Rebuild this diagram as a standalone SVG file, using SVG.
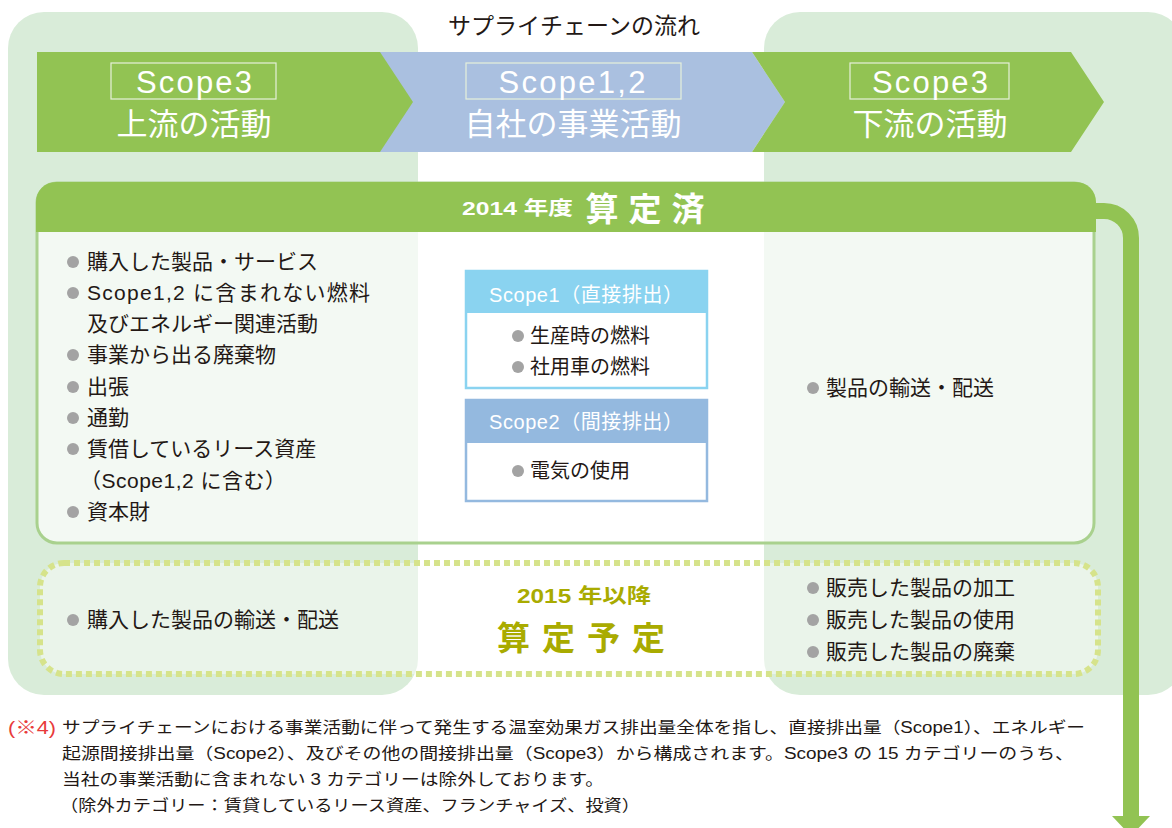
<svg xmlns="http://www.w3.org/2000/svg" width="1172" height="828" viewBox="0 0 1172 828">
<style>
text{font-family:"Liberation Sans","Noto Sans CJK JP",sans-serif}
.ban{fill:#fff;font-size:31px;text-anchor:middle}
.scp{fill:#fff;font-size:31px;text-anchor:middle}
.sbox{fill:none;stroke:#e6f0da;stroke-width:1.2}
.li{fill:#231815;font-size:21px}
.li2{fill:#231815;font-size:20px}
.bul{fill:#a3a3a3}
.hd{fill:#fff;font-size:20px;text-anchor:middle}
.ft{fill:#231815;font-size:16px}
.ol{fill:#a9ab00;font-weight:bold;text-anchor:middle}
</style>
<rect x="0" y="0" width="1172" height="828" fill="#fff"/>
<g id="panels">
<rect id="panel-left" x="8" y="12" width="410" height="683" rx="36" fill="#d9ecd9"/>
<rect id="panel-right" x="764" y="12" width="420" height="683" rx="36" fill="#d9ecd9"/>
</g>
<text x="574" y="34" font-size="23" fill="#231815" text-anchor="middle">サプライチェーンの流れ</text>
<g id="banner-mid">
<polygon points="380,52 752,52 785,102 752,152 380,152" fill="#aac0e0"/>
<rect class="sbox" x="466" y="63" width="215" height="36"/>
<text class="scp" x="572" y="93" textLength="147">Scope1,2</text>
<text class="ban" x="573" y="135">自社の事業活動</text>
</g>
<g id="banner-left">
<polygon points="37,52 380,52 413,102 380,152 37,152" fill="#92c353"/>
<rect class="sbox" x="111" y="63" width="165" height="36"/>
<text class="scp" x="194" y="93" textLength="116">Scope3</text>
<text class="ban" x="194" y="135">上流の活動</text>
</g>
<g id="banner-right">
<polygon points="752,52 1071,52 1104,102 1071,152 752,152 785,102" fill="#92c353"/>
<rect class="sbox" x="850" y="63" width="159" height="36"/>
<text class="scp" x="930" y="93" textLength="116">Scope3</text>
<text class="ban" x="930" y="135">下流の活動</text>
</g>
<g id="connectors">
<path d="M1090,211 H1104 A27,27 0 0 1 1131,238 V818" fill="none" stroke="#92c353" stroke-width="16"/>
<polygon points="1112,816 1150,816 1131,836" fill="#92c353"/>
</g>
<g id="calc-2014">
<rect x="37" y="183" width="1057" height="360" rx="20" fill="#fff" fill-opacity="0.68" stroke="#a9d18e" stroke-width="3"/>
<path d="M36,232 V202 A20,20 0 0 1 56,182 H1076 A20,20 0 0 1 1096,202 V232 Z" fill="#92c353"/>
<text x="462" y="215" fill="#fff" font-size="19" font-weight="bold" textLength="111" lengthAdjust="spacingAndGlyphs">2014 年度</text>
<text x="650" y="221" fill="#fff" font-size="33" font-weight="bold" text-anchor="middle" letter-spacing="10">算定済</text>
</g>
<g id="upstream-list">
<circle class="bul" cx="73" cy="262" r="6"/><text class="li" x="87" y="269">購入した製品・サービス</text>
<circle class="bul" cx="73" cy="293" r="6"/><text class="li" x="87" y="300" textLength="283">Scope1,2 に含まれない燃料</text>
<text class="li" x="87" y="331">及びエネルギー関連活動</text>
<circle class="bul" cx="73" cy="355" r="6"/><text class="li" x="87" y="362">事業から出る廃棄物</text>
<circle class="bul" cx="73" cy="387" r="6"/><text class="li" x="87" y="394">出張</text>
<circle class="bul" cx="73" cy="418" r="6"/><text class="li" x="87" y="425">通勤</text>
<circle class="bul" cx="73" cy="449" r="6"/><text class="li" x="87" y="456">賃借しているリース資産</text>
<text class="li" x="80" y="488" textLength="206">（Scope1,2 に含む）</text>
<circle class="bul" cx="73" cy="512" r="6"/><text class="li" x="87" y="519">資本財</text>
</g>
<g id="scope1">
<rect x="466" y="271" width="241" height="117" fill="#fff" stroke="#8ad3f0" stroke-width="2.5"/>
<rect x="466" y="271" width="241" height="42" fill="#8ad3f0"/>
<text class="hd" x="586" y="302" textLength="194">Scope1（直接排出）</text>
<circle class="bul" cx="518" cy="336" r="6"/><text class="li2" x="530" y="343">生産時の燃料</text>
<circle class="bul" cx="518" cy="367" r="6"/><text class="li2" x="530" y="374">社用車の燃料</text>
</g>
<g id="scope2">
<rect x="466" y="400" width="241" height="101" fill="#fff" stroke="#94b9df" stroke-width="2.5"/>
<rect x="466" y="400" width="241" height="43" fill="#94b9df"/>
<text class="hd" x="586" y="429" textLength="194">Scope2（間接排出）</text>
<circle class="bul" cx="518" cy="471" r="6"/><text class="li2" x="530" y="478">電気の使用</text>
</g>
<g id="downstream-list">
<circle class="bul" cx="813" cy="388" r="6"/><text class="li" x="826" y="395">製品の輸送・配送</text>
</g>
<g id="plan-2015">
<rect x="40" y="563" width="1058" height="111" rx="24" fill="#fff" fill-opacity="0.45" stroke="#d6e38b" stroke-width="6" stroke-dasharray="6 4"/>
<circle class="bul" cx="73" cy="620" r="6"/><text class="li" x="87" y="627">購入した製品の輸送・配送</text>
<text class="ol" x="584" y="603" font-size="20" textLength="134" lengthAdjust="spacingAndGlyphs">2015 年以降</text>
<text class="ol" x="587" y="650" font-size="33" letter-spacing="12">算定予定</text>
<circle class="bul" cx="813" cy="588" r="6"/><text class="li" x="826" y="595">販売した製品の加工</text>
<circle class="bul" cx="813" cy="620" r="6"/><text class="li" x="826" y="627">販売した製品の使用</text>
<circle class="bul" cx="813" cy="652" r="6"/><text class="li" x="826" y="659">販売した製品の廃棄</text>
</g>
<g id="footnote">
<text x="8" y="734" font-size="18" fill="#e83a3a" textLength="48" lengthAdjust="spacingAndGlyphs">(※4)</text>
<text class="ft" x="62" y="733" textLength="1023" lengthAdjust="spacingAndGlyphs">サプライチェーンにおける事業活動に伴って発生する温室効果ガス排出量全体を指し、直接排出量（Scope1）、エネルギー</text>
<text class="ft" x="62" y="759" textLength="1012" lengthAdjust="spacingAndGlyphs">起源間接排出量（Scope2）、及びその他の間接排出量（Scope3）から構成されます。Scope3 の 15 カテゴリーのうち、</text>
<text class="ft" x="62" y="785" textLength="542" lengthAdjust="spacingAndGlyphs">当社の事業活動に含まれない 3 カテゴリーは除外しております。</text>
<text class="ft" x="60" y="811" textLength="580" lengthAdjust="spacingAndGlyphs">（除外カテゴリー：賃貸しているリース資産、フランチャイズ、投資）</text>
</g>
</svg>
